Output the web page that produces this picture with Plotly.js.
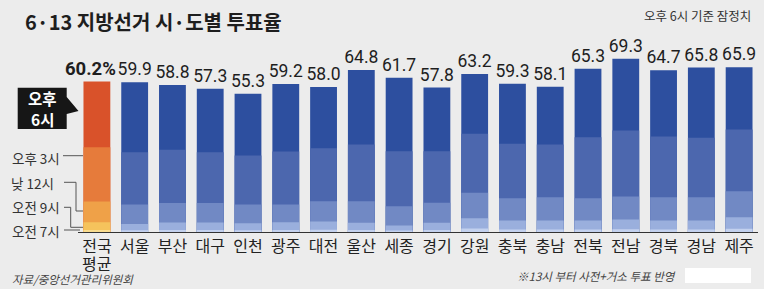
<!DOCTYPE html>
<html>
<head>
<meta charset="utf-8">
<script src="https://cdn.plot.ly/plotly-3.0.1.min.js"></script>
<style>
  html, body { margin: 0; padding: 0; background: #ececec; }
  #chart { width: 764px; height: 289px; }
</style>
</head>
<body>
<div id="chart"></div>
<script>
// ---- data (cumulative turnout %) ----
const categories = ['전국평균','서울','부산','대구','인천','광주','대전','울산','세종','경기','강원','충북','충남','전북','전남','경북','경남','제주'];
const tickLabels = ['전국','서울','부산','대구','인천','광주','대전','울산','세종','경기','강원','충북','충남','전북','전남','경북','경남','제주'];
const tickLabelSecondLine = '평균';
const turnout18h = [60.2,59.9,58.8,57.3,55.3,59.2,58.0,64.8,61.7,57.8,63.2,59.3,58.1,65.3,69.3,64.7,65.8,65.9];
const turnout15h = [33.9,31.9,32.9,31.9,30.6,32.2,33.5,35.0,32.3,32.3,39.3,35.3,35.0,37.9,40.6,38.2,37.7,41.0];
const turnout12h = [12.2,11.0,11.6,11.6,11.0,11.0,12.3,12.3,10.3,11.7,15.7,13.5,13.9,13.5,14.2,13.9,13.9,16.3];
const turnout09h = [3.9,3.2,3.8,3.8,3.5,3.9,4.2,3.7,2.6,3.7,5.5,4.6,4.6,4.6,5.0,4.6,4.6,5.9];
const turnout07h = [0.8,0.7,0.8,0.8,0.7,0.8,0.9,0.8,0.6,0.8,1.4,1.0,1.0,1.0,1.1,1.0,1.0,1.3];
const timeLabels = ['오후 6시','오후 3시','낮 12시','오전 9시','오전 7시'];

// ---- styles ----
const natColors  = ['#d9522a','#e67b3b','#efa148','#f5c35c','#f9dc8e'];
const blueColors = ['#2d4f9f','#4c67ae','#7189c4','#9aafdd','#c3d1ee'];
const series = [turnout18h, turnout15h, turnout12h, turnout09h, turnout07h];

const L = 78, R = 6, T = 52, B = 57, W = 764, H = 289;
const PW = W - L - R, PH = H - T - B;
const px = x => (x - L) / PW;
const py = y => (H - B - y) / PH;

const traces = series.map((vals, i) => {
  const tr = {
    type: 'bar',
    x: categories,
    y: vals,
    name: timeLabels[i],
    marker: { color: categories.map((c, j) => j === 0 ? natColors[i] : blueColors[i]), line: {width: 0} },
    hoverinfo: 'skip',
    showlegend: false
  };
  if (i === 0) {
    // national label is drawn as an annotation (shifted left, bold)
    tr.text = vals.map((v, j) => j === 0 ? '' : v.toFixed(1));
    tr.textposition = 'outside';
    tr.constraintext = 'none';
    tr.cliponaxis = false;
    tr.textfont = {
      family: 'Roboto, "Liberation Sans", sans-serif',
      size: 17.5,
      color: '#1e1e1e'
    };
  }
  return tr;
});

const kfont = '"Noto Sans CJK KR", "Noto Sans", sans-serif';
const lineColor = '#555';

const shapes = [
  // callout box "오후 6시"
  { type: 'path', xref: 'paper', yref: 'paper',
    path: `M ${px(17.7)},${py(87.7)} L ${px(66.7)},${py(87.7)} L ${px(66.7)},${py(97)} L ${px(78.5)},${py(111)} L ${px(66.7)},${py(114)} L ${px(66.7)},${py(129)} L ${px(17.7)},${py(129)} Z`,
    fillcolor: '#161616', line: {width: 0} },
  // leader lines
  { type: 'path', xref: 'paper', yref: 'paper',
    path: `M ${px(63)},${py(155.7)} L ${px(83)},${py(155.7)}`, line: {color: lineColor, width: 1} },
  { type: 'path', xref: 'paper', yref: 'paper',
    path: `M ${px(64)},${py(182.3)} L ${px(76)},${py(182.3)} L ${px(76)},${py(211)} L ${px(83)},${py(211)}`, line: {color: lineColor, width: 1} },
  { type: 'path', xref: 'paper', yref: 'paper',
    path: `M ${px(64)},${py(207.3)} L ${px(70.7)},${py(207.3)} L ${px(70.7)},${py(227.3)} L ${px(83)},${py(227.3)}`, line: {color: lineColor, width: 1} },
  { type: 'path', xref: 'paper', yref: 'paper',
    path: `M ${px(64)},${py(230)} L ${px(80)},${py(230)}`, line: {color: lineColor, width: 1} },
  // white patch bottom right
  { type: 'rect', xref: 'paper', yref: 'paper',
    x0: px(685), x1: px(751), y0: py(283), y1: py(268),
    fillcolor: '#ffffff', line: {width: 0} }
];

const annotations = [
  // national average value label
  { xref: 'x', yref: 'y', x: categories[0], y: turnout18h[0],
    text: '<b>' + turnout18h[0].toFixed(1) + '%</b>',
    showarrow: false, xanchor: 'center', yanchor: 'bottom', xshift: -6, yshift: 1, borderpad: 0,
    font: {family: 'Roboto, "Liberation Sans", sans-serif', size: 18.5, color: '#1e1e1e'} },
  { xref: 'paper', yref: 'paper', x: px(42), y: py(98), text: '<b>오후</b>',
    showarrow: false, xanchor: 'center', yanchor: 'middle', borderpad: 0,
    font: {family: kfont, size: 15.5, color: '#ffffff'} },
  { xref: 'paper', yref: 'paper', x: px(42), y: py(118.5), text: '<b>6시</b>',
    showarrow: false, xanchor: 'center', yanchor: 'middle', borderpad: 0,
    font: {family: kfont, size: 15.5, color: '#ffffff'} },
  { xref: 'paper', yref: 'paper', x: px(62), y: py(157.5), text: timeLabels[1],
    showarrow: false, xanchor: 'right', yanchor: 'middle',
    font: {family: kfont, size: 13.5, color: '#333'} },
  { xref: 'paper', yref: 'paper', x: px(56), y: py(182.5), text: timeLabels[2],
    showarrow: false, xanchor: 'right', yanchor: 'middle',
    font: {family: kfont, size: 13.5, color: '#333'} },
  { xref: 'paper', yref: 'paper', x: px(62), y: py(207), text: timeLabels[3],
    showarrow: false, xanchor: 'right', yanchor: 'middle',
    font: {family: kfont, size: 13.5, color: '#333'} },
  { xref: 'paper', yref: 'paper', x: px(62), y: py(231), text: timeLabels[4],
    showarrow: false, xanchor: 'right', yanchor: 'middle',
    font: {family: kfont, size: 13.5, color: '#333'} },
  // second line of the first category label
  { xref: 'x', yref: 'paper', x: categories[0], y: py(262.5), text: tickLabelSecondLine,
    showarrow: false, xanchor: 'center', yanchor: 'middle', borderpad: 0,
    font: {family: kfont, size: 16, color: '#222'} },
  { xref: 'paper', yref: 'paper', x: px(753), y: py(15.5), text: '오후 6시 기준 잠정치',
    showarrow: false, xanchor: 'right', yanchor: 'middle',
    font: {family: kfont, size: 12.5, color: '#333'} },
  { xref: 'paper', yref: 'paper', x: px(10), y: py(279), text: '<i>자료/중앙선거관리위원회</i>',
    showarrow: false, xanchor: 'left', yanchor: 'middle',
    font: {family: kfont, size: 11.5, color: '#444'} },
  { xref: 'paper', yref: 'paper', x: px(678), y: py(276), text: '<i>※13시 부터 사전+거소 투표 반영</i>',
    showarrow: false, xanchor: 'right', yanchor: 'middle',
    font: {family: kfont, size: 11.5, color: '#444'} }
];

const layout = {
  width: W, height: H,
  margin: {l: L, r: R, t: T, b: B, pad: 0},
  paper_bgcolor: '#ececec',
  plot_bgcolor: '#ececec',
  barmode: 'overlay',
  bargap: 0.29,
  title: {
    text: '<b>6·13 지방선거 시·도별 투표율</b>',
    xref: 'container', yref: 'container',
    x: 25 / W, xanchor: 'left',
    y: 1 - 23 / H, yanchor: 'middle',
    font: {family: kfont, size: 20, color: '#1e1e1e'}
  },
  xaxis: {
    type: 'category',
    range: [-0.5, categories.length - 0.5],
    autorange: false,
    tickvals: categories,
    ticktext: tickLabels,
    showline: true, linecolor: '#333', linewidth: 1.2,
    ticks: '', showgrid: false, zeroline: false,
    tickfont: {family: kfont, size: 16, color: '#222'},
    fixedrange: true
  },
  yaxis: {
    range: [0, 72],
    autorange: false,
    visible: false,
    showgrid: false, zeroline: false,
    fixedrange: true
  },
  shapes: shapes,
  annotations: annotations
};

Plotly.newPlot('chart', traces, layout, {displayModeBar: false, staticPlot: true});
</script>
</body>
</html>
